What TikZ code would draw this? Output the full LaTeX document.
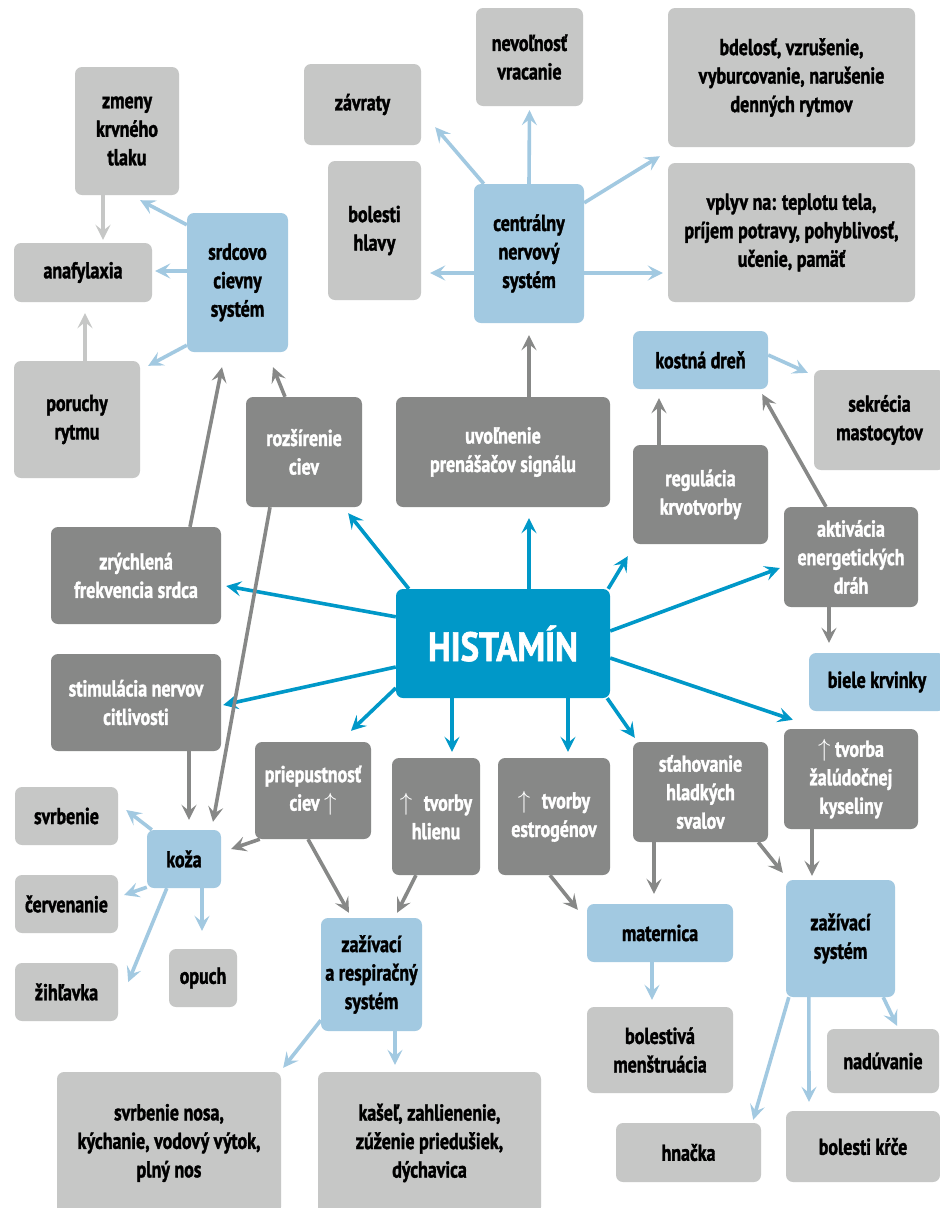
\documentclass[tikz,border=0pt]{standalone}
\usepackage{fontspec}
\setmainfont[FakeStretch=0.78,BoldFeatures={FakeBold=1.5}]{PT Sans}
\newfontfamily\hubfont[FakeStretch=0.85,BoldFeatures={FakeBold=1.5}]{PT Sans}
\usetikzlibrary{arrows.meta}
\definecolor{HistBlue}{HTML}{0098C8}
\definecolor{OrganBlue}{HTML}{A2C9E1}
\definecolor{EffectGray}{HTML}{878887}
\definecolor{SymptomGray}{HTML}{C6C7C6}

\begin{document}
\begin{tikzpicture}[x=1pt,y=-1pt,
    box/.style 2 args={rounded corners=7pt,align=center,inner sep=1pt,minimum width=#1pt,minimum height=#2pt,font=\fontsize{23}{28.5}\selectfont\bfseries},
    hub/.style 2 args={box={#1}{#2},fill=HistBlue,text=white,font=\hubfont\fontsize{41}{45}\selectfont\bfseries},
    organ/.style 2 args={box={#1}{#2},fill=OrganBlue},
    effect/.style 2 args={box={#1}{#2},fill=EffectGray,text=white},
    symptom/.style 2 args={box={#1}{#2},fill=SymptomGray},
    conn/.style={line width=3.6pt,-{Stealth[length=15pt,width=15pt,inset=6pt]}},
    hubarr/.style={conn,HistBlue},
    organarr/.style={conn,OrganBlue},
    effarr/.style={conn,EffectGray},
    symarr/.style={conn,SymptomGray}
  ]
    \fill[white] (0,0) rectangle (940,1208);
    \useasboundingbox (0,0) rectangle (940,1208);

    \node[symptom={104}{128}] (zmeny) at (127,131) {zmeny\\krvného\\tlaku};
    \node[symptom={138}{59}] (anaf) at (83,272.5) {anafylaxia};
    \node[organ={101}{139}] (srdce) at (237.5,282.5) {srdcovo\\cievny\\systém};
    \node[symptom={126}{117}] (poruchy) at (77,419.5) {poruchy\\rytmu};
    \node[symptom={117}{81}] (zavraty) at (362.5,104.5) {závraty};
    \node[symptom={93}{139}] (hlava) at (374.5,230.5) {bolesti\\hlavy};
    \node[symptom={107}{98}] (nevol) at (529.5,57) {nevoľnosť\\vracanie};
    \node[symptom={247}{139}] (bdel) at (791.5,77.5) {bdelosť, vzrušenie,\\vyburcovanie, narušenie\\denných rytmov};
    \node[symptom={247}{139}] (vplyv) at (791.5,232.5) {vplyv na: teplotu tela,\\príjem potravy, pohyblivosť,\\učenie, pamäť};
    \node[organ={110}{139}] (cns) at (529,253.5) {centrálny\\nervový\\systém};
    \node[organ={135}{58}] (dren) at (700.5,360) {kostná dreň};
    \node[symptom={131}{100}] (sekr) at (879.5,420) {sekrécia\\mastocytov};
    \node[effect={214}{110}] (uvol) at (503,452) {uvoľnenie\\prenášačov signálu};
    \node[effect={135}{99}] (regul) at (700.5,494.5) {regulácia\\krvotvorby};
    \node[effect={134}{100}] (aktiv) at (851,557) {aktivácia\\energetických\\dráh};
    \node[organ={136}{58}] (biele) at (877,682) {biele krvinky};
    \node[effect={134}{100}] (kyselina) at (851,779) {$\uparrow$ tvorba\\žalúdočnej\\kyseliny};
    \node[hub={214}{109}] (hist) at (503,643.5) {HISTAMÍN};
    \node[effect={116}{110}] (rozs) at (304,452) {rozšírenie\\ciev};
    \node[effect={170}{97}] (frekv) at (136,575.5) {zrýchlená\\frekvencia srdca};
    \node[effect={170}{97}] (nervy) at (136,702.5) {stimulácia nervov\\citlivosti};
    \node[effect={116}{97}] (priep) at (313,790.5) {priepustnosť\\ciev $\uparrow$};
    \node[effect={88}{117}] (hlien) at (436,816.5) {$\uparrow$\enspace tvorby\\hlienu};
    \node[effect={112}{117}] (estro) at (554,816.5) {$\uparrow$\enspace tvorby\\estrogénov};
    \node[effect={135}{100}] (stah) at (700.5,792) {sťahovanie\\hladkých\\svalov};
    \node[symptom={103}{58}] (svrb) at (66.5,816) {svrbenie};
    \node[symptom={103}{58}] (cerv) at (66.5,904) {červenanie};
    \node[symptom={103}{58}] (zihl) at (66.5,992) {žihľavka};
    \node[organ={74}{58}] (koza) at (184,859) {koža};
    \node[symptom={68}{58}] (opuch) at (203,978) {opuch};
    \node[organ={101}{113}] (resp) at (371.5,974.5) {zažívací\\a respiračný\\systém};
    \node[symptom={224}{142}] (nos) at (169,1143) {svrbenie nosa,\\kýchanie, vodový výtok,\\plný nos};
    \node[symptom={223}{142}] (kasel) at (429.5,1143) {kašeľ, zahlienenie,\\zúženie priedušiek,\\dýchavica};
    \node[organ={146}{58}] (mater) at (660,933) {maternica};
    \node[symptom={146}{86}] (menstr) at (660,1050) {bolestivá\\menštruácia};
    \node[organ={109}{117}] (trav) at (840.5,938.5) {zažívací\\systém};
    \node[symptom={112}{64}] (nafuk) at (883,1061) {nadúvanie};
    \node[symptom={145}{59}] (hnacka) at (688.5,1152.5) {hnačka};
    \node[symptom={154}{71}] (krce) at (863,1146.5) {bolesti kŕče};

    \draw[hubarr] ([shift={(13,0)}]hist.north west) -- ([shift={(-14,6)}]rozs.south east);
    \draw[hubarr] ([shift={(0,28)}]hist.north west) -- ([shift={(5,10.5)}]frekv.east);
    \draw[hubarr] ([shift={(0,23.5)}]hist.west) -- ([shift={(2,2.5)}]nervy.east);
    \draw[hubarr] ([shift={(0,44.5)}]hist.west) -- ([shift={(38,-11)}]priep.north);
    \draw[hubarr] ([shift={(-51,0)}]hist.south) -- ([shift={(16,-6)}]hlien.north);
    \draw[hubarr] ([shift={(65,0)}]hist.south) -- ([shift={(14,-6)}]estro.north);
    \draw[hubarr] ([shift={(-3,0)}]hist.south east) -- ([shift={(2,-4)}]stah.north west);
    \draw[hubarr] ([shift={(0,14.5)}]hist.east) -- ([shift={(9,-9)}]kyselina.north west);
    \draw[hubarr] ([shift={(0,-12.5)}]hist.east) -- ([shift={(-4,11)}]aktiv.west);
    \draw[hubarr] ([shift={(-2,0)}]hist.north east) -- ([shift={(-5,12)}]regul.south west);
    \draw[hubarr] ([shift={(26,0)}]hist.north) -- ([shift={(26,11)}]uvol.south);

    \draw[effarr] ([shift={(26,0)}]uvol.north) -- ([shift={(0,12)}]cns.south);
    \draw[effarr] ([shift={(-41.5,0)}]regul.north) -- ([shift={(-41.5,9)}]dren.south);
    \draw[effarr] ([shift={(-25,0)}]aktiv.north) -- ([shift={(-6,5)}]dren.south east);
    \draw[effarr] ([shift={(-22,0)}]aktiv.south) -- ([shift={(-48,-10)}]biele.north);
    \draw[effarr] ([shift={(-39,0)}]kyselina.south) -- ([shift={(-28.5,-4)}]trav.north);
    \draw[effarr] ([shift={(-46.5,0)}]stah.south) -- ([shift={(-6,-10)}]mater.north);
    \draw[effarr] ([shift={(-10,0)}]stah.south east) -- ([shift={(-3,-7)}]trav.north west);
    \draw[effarr] ([shift={(-4,0)}]estro.south) -- ([shift={(-9,6)}]mater.north west);
    \draw[effarr] ([shift={(-20,0)}]hlien.south) -- ([shift={(25.5,-5)}]resp.north);
    \draw[effarr] ([shift={(-5,0)}]priep.south) -- ([shift={(-22.5,-5)}]resp.north);
    \draw[effarr] ([shift={(5,0)}]priep.south west) -- ([shift={(10,-10)}]koza.east);
    \draw[effarr] ([shift={(53,0)}]nervy.south) -- ([shift={(5,-10)}]koza.north);
    \draw[effarr] ([shift={(-34,0)}]rozs.south) -- ([shift={(29,-8)}]koza.north);
    \draw[effarr] ([shift={(-19,0)}]rozs.north) -- ([shift={(35.5,15)}]srdce.south);
    \draw[effarr] ([shift={(54,0)}]frekv.north) -- ([shift={(-15.5,15)}]srdce.south);

    \draw[symarr] ([shift={(-24,0)}]zmeny.south) -- ([shift={(20,-3)}]anaf.north);
    \draw[symarr] ([shift={(8,0)}]poruchy.north) -- ([shift={(2,11)}]anaf.south);

    \draw[organarr] ([shift={(0,12)}]srdce.north west) -- ([shift={(-39,5)}]zmeny.south east);
    \draw[organarr] ([shift={(0,-11.5)}]srdce.west) -- ([shift={(3,-1.5)}]anaf.east);
    \draw[organarr] ([shift={(0,-7)}]srdce.south west) -- ([shift={(8,5)}]poruchy.north east);
    \draw[organarr] ([shift={(10,0)}]cns.north west) -- ([shift={(14,-18)}]zavraty.south east);
    \draw[organarr] ([shift={(0,19.5)}]cns.west) -- ([shift={(9,42.5)}]hlava.east);
    \draw[organarr] (cns.north) -- ([shift={(0,4)}]nevol.south);
    \draw[organarr] ([shift={(0,19)}]cns.north east) -- ([shift={(-8,9)}]bdel.south west);
    \draw[organarr] ([shift={(0,19.5)}]cns.east) -- ([shift={(-5,40.5)}]vplyv.west);
    \draw[organarr] ([shift={(0,-5)}]dren.east) -- ([shift={(-6,3)}]sekr.north west);
    \draw[organarr] ([shift={(5,0)}]koza.north west) -- ([shift={(8,-6)}]svrb.east);
    \draw[organarr] ([shift={(0,-1)}]koza.south west) -- ([shift={(6,-9)}]cerv.east);
    \draw[organarr] ([shift={(20,0)}]koza.south west) -- ([shift={(10,-10)}]zihl.east);
    \draw[organarr] ([shift={(18,0)}]koza.south) -- ([shift={(-1,-18)}]opuch.north);
    \draw[organarr] ([shift={(0,-11)}]resp.south west) -- ([shift={(2,-4)}]nos.north east);
    \draw[organarr] ([shift={(23.5,0)}]resp.south) -- ([shift={(-34.5,-7)}]kasel.north);
    \draw[organarr] ([shift={(-8,0)}]mater.south) -- ([shift={(-8,-7)}]menstr.north);
    \draw[organarr] ([shift={(3,0)}]trav.south west) -- ([shift={(-8,-3)}]hnacka.north east);
    \draw[organarr] ([shift={(23,0)}]trav.south west) -- ([shift={(-54,-9)}]krce.north);
    \draw[organarr] ([shift={(-12,0)}]trav.south east) -- ([shift={(14,-3)}]nafuk.north);
\end{tikzpicture}
\end{document}
